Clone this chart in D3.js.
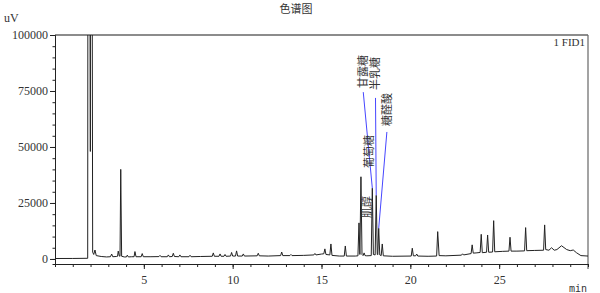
<!DOCTYPE html>
<html>
<head>
<meta charset="utf-8">
<script src="https://cdn.jsdelivr.net/npm/d3@7"></script>
<style>
  body { margin: 0; background: #fff; }
  .axis text { font-family: "Liberation Serif", "DejaVu Serif", serif; font-size: 12px; fill: #333; }
  .axis path, .axis line { stroke: #222; }
</style>
</head>
<body>
<div id="chart"></div>
<script>
// detector trace, [time (min), signal (uV)]
const trace = [
  [0, 200], [1.0, 220], [1.84, 300], [1.88, 500000], [1.99, 48000], [2.01, 500000], [2.12, 3000],
  [2.18, 2000], [2.25, 4000], [2.32, 1500], [2.6, 1100], [2.9, 900], [3.12, 1000], [3.19, 2200],
  [3.25, 1000], [3.45, 1100], [3.52, 1200], [3.56, 3500], [3.62, 1300], [3.66, 1200], [3.70, 40000],
  [3.75, 1200], [3.9, 900], [4.02, 900], [4.07, 1700], [4.13, 900], [4.3, 1000], [4.45, 1000],
  [4.50, 3300], [4.56, 1000], [4.85, 1000], [4.91, 2400], [4.97, 1000], [5.4, 1000], [5.85, 1050],
  [5.91, 1600], [5.97, 1000], [6.32, 1000], [6.38, 1800], [6.44, 1000], [6.60, 1100], [6.66, 2550],
  [6.72, 1100], [6.97, 1000], [7.03, 1800], [7.09, 1000], [7.54, 1000], [7.60, 1650], [7.66, 1000],
  [8.2, 1100], [8.85, 1200], [8.91, 2700], [8.97, 1200], [9.23, 1200], [9.29, 2250], [9.35, 1200],
  [9.51, 1200], [9.57, 2000], [9.63, 1200], [9.88, 1300], [9.94, 2900], [10.00, 1300], [10.16, 1300],
  [10.22, 3600], [10.28, 1300], [10.54, 1300], [10.60, 2250], [10.66, 1300], [11.38, 1400],
  [11.44, 2550], [11.50, 1400], [12.0, 1300], [12.70, 1500], [12.76, 3100], [12.82, 1500],
  [13.22, 1500], [13.28, 2000], [13.34, 1500], [14.0, 1600], [14.57, 1800], [14.63, 2450],
  [14.69, 1800], [15.0, 2200], [15.13, 2300], [15.19, 4500], [15.25, 2000], [15.47, 1800],
  [15.53, 6700], [15.59, 1600], [16.0, 1300], [16.28, 1300], [16.34, 5800], [16.40, 1300],
  [16.9, 1300], [17.05, 1400], [17.11, 16100], [17.16, 2000], [17.22, 36700], [17.28, 2000],
  [17.34, 1500], [17.40, 2700], [17.45, 1500], [17.55, 1400], [17.80, 1500], [17.86, 31600],
  [17.92, 2000], [18.02, 1800], [18.08, 28400], [18.14, 2000], [18.17, 1900], [18.22, 13700],
  [18.28, 1800], [18.36, 1500], [18.42, 6700], [18.48, 1400], [19.0, 1200], [20.05, 1300],
  [20.11, 4800], [20.17, 1400], [20.30, 1400], [20.36, 2200], [20.42, 1300], [21.0, 1200],
  [21.48, 1300], [21.54, 12200], [21.62, 1500], [22.0, 1400], [22.88, 1700], [22.94, 2300],
  [23.0, 1800], [23.42, 2400], [23.48, 6300], [23.54, 2600], [23.70, 2700], [23.93, 2900],
  [23.99, 11000], [24.05, 2800], [24.29, 3000], [24.35, 10700], [24.41, 3000], [24.63, 3100],
  [24.69, 17100], [24.75, 3200], [25.2, 3400], [25.55, 3500], [25.61, 9700], [25.67, 3500],
  [26.0, 3500], [26.43, 3600], [26.49, 14000], [26.55, 3700], [27.0, 3800], [27.50, 3900],
  [27.56, 15200], [27.62, 4200], [27.80, 3900], [27.95, 5000], [28.10, 3900], [28.25, 4200],
  [28.51, 5900], [28.8, 4200], [29.0, 3700], [29.17, 4000], [29.35, 2800], [29.6, 1500], [30, 1300]
];

// peak labels: name, text anchor (time, signal), leader line start and target peak (null = no line)
const labelNames = ["甘露糖", "半乳糖", "糖醛酸", "葡萄糖", "肌醇"];
const labelAnchors = [[17.28, 76300], [17.94, 75400], [18.65, 59400], [17.61, 40600], [17.50, 18300]];
const leaderStarts = [[17.35, 74500], [18.04, 71900], [18.68, 56700], null, null];
const leaderEnds = [[17.86, 31600], [18.08, 28400], [18.22, 13700], null, null];

const yTicks = [0, 25000, 50000, 75000, 100000];
const xTicks = [5, 10, 15, 20, 25];

const dimensions = {
  width: 600,
  height: 293,
  marginTop: 35,
  marginRight: 12,
  marginBottom: 29,
  marginLeft: 55,
};
dimensions.boundedWidth = dimensions.width - dimensions.marginLeft - dimensions.marginRight;
dimensions.boundedHeight = dimensions.height - dimensions.marginTop - dimensions.marginBottom;

const wrapper = d3.select("#chart")
  .append("svg")
    .attr("width", dimensions.width)
    .attr("height", dimensions.height);

const bounds = wrapper.append("g")
  .attr("transform", `translate(${dimensions.marginLeft}, ${dimensions.marginTop})`);

// scales (bottom of frame sits a little under zero)
const xScale = d3.scaleLinear()
  .domain([0, 30])
  .range([0, dimensions.boundedWidth]);

const yScale = d3.scaleLinear()
  .domain([-2250, 100000])
  .range([dimensions.boundedHeight, 0]);

// title and units
wrapper.append("text")
  .attr("x", 296).attr("y", 13)
  .attr("text-anchor", "middle")
  .style("font-family", "'Noto Sans CJK SC', sans-serif")
  .style("font-size", "11px")
  .style("fill", "#333")
  .text("色谱图");

wrapper.append("text")
  .attr("x", 4).attr("y", 22)
  .style("font-family", "'Liberation Serif', serif")
  .style("font-size", "12px")
  .style("fill", "#333")
  .text("uV");

// frame top / right
bounds.append("line")
  .attr("x1", 0).attr("x2", dimensions.boundedWidth)
  .attr("y1", 0).attr("y2", 0)
  .attr("stroke", "#666").attr("stroke-width", 1.5);
bounds.append("line")
  .attr("x1", dimensions.boundedWidth).attr("x2", dimensions.boundedWidth)
  .attr("y1", 0).attr("y2", dimensions.boundedHeight + 5)
  .attr("stroke", "#666").attr("stroke-width", 1.2);

bounds.append("text")
  .attr("x", dimensions.boundedWidth - 3).attr("y", 11)
  .attr("text-anchor", "end")
  .style("font-family", "'Liberation Serif', serif")
  .style("font-size", "11px")
  .style("fill", "#333")
  .text("1 FID1");

// minor ticks
const yMinor = d3.axisLeft(yScale)
  .tickValues(d3.range(0, 100001, 5000))
  .tickSize(2.5).tickFormat(() => "");
bounds.append("g").attr("class", "axis").call(yMinor);

const xMinor = d3.axisBottom(xScale)
  .tickValues(d3.range(0, 31, 1))
  .tickSize(3).tickFormat(() => "");
bounds.append("g").attr("class", "axis")
  .attr("transform", `translate(0, ${dimensions.boundedHeight})`)
  .call(xMinor);

// major axes
const yAxis = bounds.append("g")
  .attr("class", "axis")
  .call(d3.axisLeft(yScale).tickValues(yTicks).tickFormat(d3.format("d"))
    .tickSize(5).tickPadding(2).tickSizeOuter(0));

const xAxis = bounds.append("g")
  .attr("class", "axis")
  .attr("transform", `translate(0, ${dimensions.boundedHeight})`)
  .call(d3.axisBottom(xScale).tickValues(xTicks).tickFormat(d3.format("d"))
    .tickSize(5).tickPadding(6).tickSizeOuter(0));

wrapper.append("text")
  .attr("x", 587).attr("y", 292)
  .attr("text-anchor", "end")
  .style("font-family", "'DejaVu Sans Mono', monospace")
  .style("font-size", "10px")
  .style("fill", "#333")
  .text("min");

// trace, clipped to the frame
bounds.append("clipPath").attr("id", "plot-clip")
  .append("rect")
    .attr("width", dimensions.boundedWidth)
    .attr("height", dimensions.boundedHeight);

const lineGenerator = d3.line()
  .x(d => xScale(d[0]))
  .y(d => yScale(d[1]));

bounds.append("path")
  .attr("clip-path", "url(#plot-clip)")
  .attr("d", lineGenerator(trace))
  .attr("fill", "none")
  .attr("stroke", "#222")
  .attr("stroke-width", 1);

// leader lines
leaderStarts.forEach((s, i) => {
  if (!s) return;
  const e = leaderEnds[i];
  bounds.append("line")
    .attr("x1", xScale(s[0])).attr("y1", yScale(s[1]))
    .attr("x2", xScale(e[0])).attr("y2", yScale(e[1]))
    .attr("stroke", "#4646ff")
    .attr("stroke-width", 1);
});

// rotated peak names
labelNames.forEach((name, i) => {
  const a = labelAnchors[i];
  bounds.append("text")
    .attr("transform", `translate(${xScale(a[0])}, ${yScale(a[1])}) rotate(-90)`)
    .attr("dominant-baseline", "central")
    .style("font-family", "'Noto Sans CJK SC', sans-serif")
    .style("font-size", "11px")
    .style("fill", "#333")
    .text(name);
});
</script>
</body>
</html>
